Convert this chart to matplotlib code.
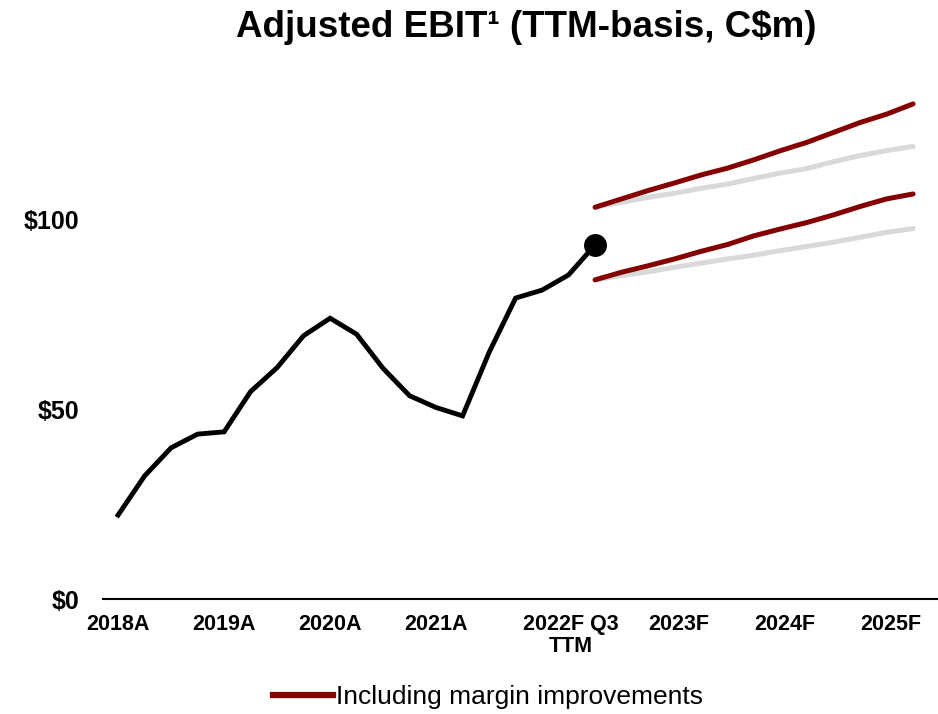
import matplotlib.pyplot as plt
from matplotlib.lines import Line2D

plt.rcParams['font.family'] = ['Liberation Sans', 'DejaVu Sans']

# quarterly TTM adjusted EBIT, C$m (2018A .. 2022F Q3 TTM)
actual = [22.1, 32.4, 39.8, 43.4, 44.0, 54.6, 60.9, 69.3, 73.9, 69.7,
          60.7, 53.5, 50.4, 48.2, 64.9, 79.2, 81.3, 85.3, 93.2]

# quarterly projections from 2022F Q3 to 2025F
high_margin = [103.1, 105.3, 107.5, 109.5, 111.6, 113.4, 115.6, 118.0,
               120.2, 122.8, 125.4, 127.6, 130.3]
high_base = [103.1, 104.4, 105.7, 106.8, 108.1, 109.2, 110.7, 112.1,
             113.3, 115.1, 116.7, 118.0, 119.1]
low_margin = [84.0, 86.0, 87.7, 89.5, 91.5, 93.3, 95.6, 97.4,
              99.1, 101.1, 103.3, 105.3, 106.6]
low_base = [84.0, 85.1, 86.1, 87.3, 88.4, 89.5, 90.5, 91.7,
            92.8, 93.9, 95.2, 96.5, 97.5]

tick_labels = ['2018A', '2019A', '2020A', '2021A', '2022F Q3\nTTM',
               '2023F', '2024F', '2025F']
tick_pos = [0, 4, 8, 12, 17.1, 21.15, 25.15, 29.15]
y_ticks = [0, 50, 100]

red = '#850000'
grey = '#d9d9d9'

fig = plt.figure(figsize=(9.38, 7.14), dpi=100)
ax = fig.add_axes([0.1098, 0.161, 0.8902, 0.7185])

x_act = list(range(len(actual)))
x_fc = list(range(len(actual) - 1, len(actual) - 1 + len(high_margin)))

ax.plot(x_fc, high_base, color=grey, lw=3.6, solid_capstyle='round', zorder=2)
ax.plot(x_fc, low_base, color=grey, lw=3.6, solid_capstyle='round', zorder=2)
ax.plot(x_fc, high_margin, color=red, lw=3.6, solid_capstyle='round', zorder=3)
ax.plot(x_fc, low_margin, color=red, lw=3.6, solid_capstyle='round', zorder=3)
ax.plot(x_act, actual, color='black', lw=3.5, solid_joinstyle='miter', zorder=4)
ax.plot(x_act[-1], actual[-1], 'o', color='black', ms=15.5, zorder=5)

ax.set_xlim(-0.57, 30.94)
ax.set_ylim(0, 135)

for s in ['top', 'right', 'left']:
    ax.spines[s].set_visible(False)
ax.spines['bottom'].set_linewidth(1.5)

ax.set_xticks(tick_pos)
ax.set_xticklabels(tick_labels, fontsize=15.5, fontweight='bold', linespacing=1.05)
ax.set_yticks(y_ticks)
ax.set_yticklabels(['\\$%d' % v for v in y_ticks], fontsize=18, fontweight='bold')
ax.tick_params(axis='x', length=0, pad=11)
ax.tick_params(axis='y', length=0, pad=17)

fig.text(0.561, 0.948, 'Adjusted EBIT\u00b9 (TTM-basis, C\\$m)', ha='center',
         va='baseline', fontsize=26.5, fontweight='bold')

handle = Line2D([], [], color=red, lw=4.5)
fig.legend(handles=[handle], labels=['Including margin improvements'],
           loc='center', bbox_to_anchor=(0.52, 0.024), frameon=False,
           fontsize=19, handlelength=2.3, handletextpad=0.1)

fig.savefig('out.png', dpi=100)
